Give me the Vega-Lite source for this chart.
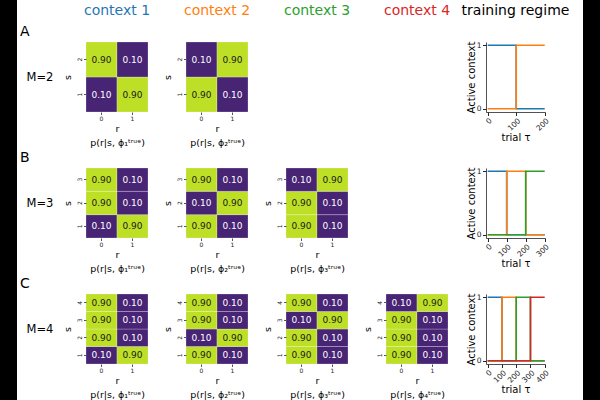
{
  "$schema": "https://vega.github.io/schema/vega-lite/v6.json",
  "padding": 0,
  "background": "white",
  "columns": 7,
  "spacing": {"row": 0, "column": 38},
  "bounds": "flush",
  "align": "each",
  "config": {
    "font": "DejaVu Sans",
    "view": {"stroke": null},
    "title": {"font": "DejaVu Sans", "fontSize": 14, "fontWeight": "normal", "frame": "group", "anchor": "start", "baseline": "alphabetic", "offset": 3, "dx": 20, "color": "black"},
    "axis": {"labelFont": "DejaVu Sans", "titleFont": "DejaVu Sans", "titleFontWeight": "normal", "grid": false, "domainColor": "#262626", "tickColor": "#262626", "labelColor": "#1a1a1a", "titleColor": "#000000", "labelOverlap": false, "labelFlush": false},
    "axisBand": {"domain": false, "labelFontSize": 6, "tickSize": 2.5, "labelPadding": 1, "titleFontSize": 9.5, "titlePadding": 2, "titleLineHeight": 14, "tickColor": "#555555", "titleColor": "#000000"},
    "axisQuantitative": {"domain": true, "domainWidth": 0.8, "labelFontSize": 7.5, "tickSize": 3.5, "labelPadding": 1.5, "titleFontSize": 10, "titlePadding": 1, "titleColor": "#000000"}
  },
  "datasets": {
    "hm": [
      {"M":2,"c":1,"s":1,"r":0,"p":0.1},{"M":2,"c":1,"s":1,"r":1,"p":0.9},{"M":2,"c":1,"s":2,"r":0,"p":0.9},{"M":2,"c":1,"s":2,"r":1,"p":0.1},
      {"M":2,"c":2,"s":1,"r":0,"p":0.9},{"M":2,"c":2,"s":1,"r":1,"p":0.1},{"M":2,"c":2,"s":2,"r":0,"p":0.1},{"M":2,"c":2,"s":2,"r":1,"p":0.9},
      {"M":3,"c":1,"s":1,"r":0,"p":0.1},{"M":3,"c":1,"s":1,"r":1,"p":0.9},{"M":3,"c":1,"s":2,"r":0,"p":0.9},{"M":3,"c":1,"s":2,"r":1,"p":0.1},{"M":3,"c":1,"s":3,"r":0,"p":0.9},{"M":3,"c":1,"s":3,"r":1,"p":0.1},
      {"M":3,"c":2,"s":1,"r":0,"p":0.9},{"M":3,"c":2,"s":1,"r":1,"p":0.1},{"M":3,"c":2,"s":2,"r":0,"p":0.1},{"M":3,"c":2,"s":2,"r":1,"p":0.9},{"M":3,"c":2,"s":3,"r":0,"p":0.9},{"M":3,"c":2,"s":3,"r":1,"p":0.1},
      {"M":3,"c":3,"s":1,"r":0,"p":0.9},{"M":3,"c":3,"s":1,"r":1,"p":0.1},{"M":3,"c":3,"s":2,"r":0,"p":0.9},{"M":3,"c":3,"s":2,"r":1,"p":0.1},{"M":3,"c":3,"s":3,"r":0,"p":0.1},{"M":3,"c":3,"s":3,"r":1,"p":0.9},
      {"M":4,"c":1,"s":1,"r":0,"p":0.1},{"M":4,"c":1,"s":1,"r":1,"p":0.9},{"M":4,"c":1,"s":2,"r":0,"p":0.9},{"M":4,"c":1,"s":2,"r":1,"p":0.1},{"M":4,"c":1,"s":3,"r":0,"p":0.9},{"M":4,"c":1,"s":3,"r":1,"p":0.1},{"M":4,"c":1,"s":4,"r":0,"p":0.9},{"M":4,"c":1,"s":4,"r":1,"p":0.1},
      {"M":4,"c":2,"s":1,"r":0,"p":0.9},{"M":4,"c":2,"s":1,"r":1,"p":0.1},{"M":4,"c":2,"s":2,"r":0,"p":0.1},{"M":4,"c":2,"s":2,"r":1,"p":0.9},{"M":4,"c":2,"s":3,"r":0,"p":0.9},{"M":4,"c":2,"s":3,"r":1,"p":0.1},{"M":4,"c":2,"s":4,"r":0,"p":0.9},{"M":4,"c":2,"s":4,"r":1,"p":0.1},
      {"M":4,"c":3,"s":1,"r":0,"p":0.9},{"M":4,"c":3,"s":1,"r":1,"p":0.1},{"M":4,"c":3,"s":2,"r":0,"p":0.9},{"M":4,"c":3,"s":2,"r":1,"p":0.1},{"M":4,"c":3,"s":3,"r":0,"p":0.1},{"M":4,"c":3,"s":3,"r":1,"p":0.9},{"M":4,"c":3,"s":4,"r":0,"p":0.9},{"M":4,"c":3,"s":4,"r":1,"p":0.1},
      {"M":4,"c":4,"s":1,"r":0,"p":0.9},{"M":4,"c":4,"s":1,"r":1,"p":0.1},{"M":4,"c":4,"s":2,"r":0,"p":0.9},{"M":4,"c":4,"s":2,"r":1,"p":0.1},{"M":4,"c":4,"s":3,"r":0,"p":0.9},{"M":4,"c":4,"s":3,"r":1,"p":0.1},{"M":4,"c":4,"s":4,"r":0,"p":0.1},{"M":4,"c":4,"s":4,"r":1,"p":0.9}
    ],
    "ln": [
      {"M":2,"c":1,"t":0,"a":1},{"M":2,"c":1,"t":100,"a":0},{"M":2,"c":1,"t":200,"a":0},
      {"M":2,"c":2,"t":0,"a":0},{"M":2,"c":2,"t":100,"a":1},{"M":2,"c":2,"t":200,"a":1},
      {"M":3,"c":1,"t":0,"a":1},{"M":3,"c":1,"t":100,"a":0},{"M":3,"c":1,"t":300,"a":0},
      {"M":3,"c":2,"t":0,"a":0},{"M":3,"c":2,"t":100,"a":1},{"M":3,"c":2,"t":200,"a":0},{"M":3,"c":2,"t":300,"a":0},
      {"M":3,"c":3,"t":0,"a":0},{"M":3,"c":3,"t":200,"a":1},{"M":3,"c":3,"t":300,"a":1},
      {"M":4,"c":1,"t":0,"a":1},{"M":4,"c":1,"t":100,"a":0},{"M":4,"c":1,"t":400,"a":0},
      {"M":4,"c":2,"t":0,"a":0},{"M":4,"c":2,"t":100,"a":1},{"M":4,"c":2,"t":200,"a":0},{"M":4,"c":2,"t":400,"a":0},
      {"M":4,"c":3,"t":0,"a":0},{"M":4,"c":3,"t":200,"a":1},{"M":4,"c":3,"t":300,"a":0},{"M":4,"c":3,"t":400,"a":0},
      {"M":4,"c":4,"t":0,"a":0},{"M":4,"c":4,"t":300,"a":1},{"M":4,"c":4,"t":400,"a":1}
    ]
  },
  "concat": [
    {"width": 48, "height": 42, "view": {"stroke": null, "fill": {"gradient": "linear", "x1": 0, "y1": 0, "x2": 1, "y2": 0, "stops": [{"offset": 0, "color": "black"}, {"offset": 0.354, "color": "black"}, {"offset": 0.354, "color": "white"}, {"offset": 1, "color": "white"}]}}, "data": {"values": [{}]}, "mark": {"type": "text", "text": ""}},
    {"width": 62, "height": 21, "data": {"values": [{"label": "context 1"}]}, "mark": {"type": "text", "fontSize": 14, "color": "#1f77b4"}, "encoding": {"text": {"field": "label"}}},
    {"width": 62, "height": 21, "data": {"values": [{"label": "context 2"}]}, "mark": {"type": "text", "fontSize": 14, "color": "#ff7f0e"}, "encoding": {"text": {"field": "label"}}},
    {"width": 62, "height": 21, "data": {"values": [{"label": "context 3"}]}, "mark": {"type": "text", "fontSize": 14, "color": "#2ca02c"}, "encoding": {"text": {"field": "label"}}},
    {"width": 62, "height": 21, "data": {"values": [{"label": "context 4"}]}, "mark": {"type": "text", "fontSize": 14, "color": "#d62728"}, "encoding": {"text": {"field": "label"}}},
    {"width": 59, "height": 21, "data": {"values": [{"label": "training regime"}]}, "mark": {"type": "text", "fontSize": 14, "color": "black"}, "encoding": {"text": {"field": "label"}}},
    {"width": 17, "height": 42, "view": {"fill": "black", "stroke": null}, "data": {"values": [{}]}, "mark": {"type": "text", "text": ""}},

    {"width": 48, "height": 126, "view": {"stroke": null, "fill": {"gradient": "linear", "x1": 0, "y1": 0, "x2": 1, "y2": 0, "stops": [{"offset": 0, "color": "black"}, {"offset": 0.354, "color": "black"}, {"offset": 0.354, "color": "white"}, {"offset": 1, "color": "white"}]}}, "title": {"text": "A"}, "data": {"values": [{"label": "M=2"}]}, "mark": {"type": "text", "fontSize": 11.5, "dx": 16, "dy": -27, "color": "black"}, "encoding": {"text": {"field": "label"}}},
    {"width": 62, "height": 70, "data": {"name": "hm"}, "transform": [{"filter": "datum.M == 2 && datum.c == 1"}],
      "encoding": {"x": {"field": "r", "type": "ordinal", "axis": {"labelAngle": 0, "title": ["r", "p(r|s, ϕ₁ᵗʳᵘᵉ)"]}}, "y": {"field": "s", "type": "ordinal", "sort": "descending", "axis": {"labelAngle": -90, "title": "s", "titlePadding": 4}}},
      "layer": [
        {"mark": {"type": "rect", "stroke": "white", "strokeWidth": 0.6, "strokeOpacity": 0.4}, "encoding": {"color": {"field": "p", "type": "quantitative", "scale": {"domain": [0.1, 0.9], "range": ["#482475", "#bddf26"]}, "legend": null}}},
        {"mark": {"type": "text", "fontSize": 9}, "encoding": {"text": {"field": "p", "type": "quantitative", "format": ".2f"}, "color": {"condition": {"test": "datum.p > 0.5", "value": "#1a1a1a"}, "value": "white"}}}
      ]},
    {"width": 62, "height": 70, "data": {"name": "hm"}, "transform": [{"filter": "datum.M == 2 && datum.c == 2"}],
      "encoding": {"x": {"field": "r", "type": "ordinal", "axis": {"labelAngle": 0, "title": ["r", "p(r|s, ϕ₂ᵗʳᵘᵉ)"]}}, "y": {"field": "s", "type": "ordinal", "sort": "descending", "axis": {"labelAngle": -90, "title": "s", "titlePadding": 4}}},
      "layer": [
        {"mark": {"type": "rect", "stroke": "white", "strokeWidth": 0.6, "strokeOpacity": 0.4}, "encoding": {"color": {"field": "p", "type": "quantitative", "scale": {"domain": [0.1, 0.9], "range": ["#482475", "#bddf26"]}, "legend": null}}},
        {"mark": {"type": "text", "fontSize": 9}, "encoding": {"text": {"field": "p", "type": "quantitative", "format": ".2f"}, "color": {"condition": {"test": "datum.p > 0.5", "value": "#1a1a1a"}, "value": "white"}}}
      ]},
    {"width": 62, "height": 70, "data": {"values": [{}]}, "mark": {"type": "text", "text": ""}},
    {"width": 62, "height": 70, "data": {"values": [{}]}, "mark": {"type": "text", "text": ""}},
    {"width": 59, "height": 70, "data": {"name": "ln"}, "transform": [{"filter": "datum.M == 2"}],
      "mark": {"type": "line", "interpolate": "step-after", "strokeWidth": 1.6},
      "encoding": {
        "x": {"field": "t", "type": "quantitative", "scale": {"domain": [-6, 201], "nice": false, "zero": false}, "axis": {"values": [0, 100, 200], "labelAngle": -45, "labelPadding": 1, "titlePadding": 1, "title": "trial τ"}},
        "y": {"field": "a", "type": "quantitative", "scale": {"domain": [-0.05, 1.05], "nice": false, "zero": false}, "axis": {"values": [0, 1], "format": "d", "titlePadding": 0, "title": "Active context"}},
        "color": {"field": "c", "type": "nominal", "scale": {"domain": [1, 2, 3, 4], "range": ["#1f77b4", "#ff7f0e", "#2ca02c", "#d62728"]}, "legend": null}
      }},
    {"width": 17, "height": 126, "view": {"fill": "black", "stroke": null}, "data": {"values": [{}]}, "mark": {"type": "text", "text": ""}},

    {"width": 48, "height": 126, "view": {"stroke": null, "fill": {"gradient": "linear", "x1": 0, "y1": 0, "x2": 1, "y2": 0, "stops": [{"offset": 0, "color": "black"}, {"offset": 0.354, "color": "black"}, {"offset": 0.354, "color": "white"}, {"offset": 1, "color": "white"}]}}, "title": {"text": "B"}, "data": {"values": [{"label": "M=3"}]}, "mark": {"type": "text", "fontSize": 11.5, "dx": 16, "dy": -27, "color": "black"}, "encoding": {"text": {"field": "label"}}},
    {"width": 62, "height": 70, "data": {"name": "hm"}, "transform": [{"filter": "datum.M == 3 && datum.c == 1"}],
      "encoding": {"x": {"field": "r", "type": "ordinal", "axis": {"labelAngle": 0, "title": ["r", "p(r|s, ϕ₁ᵗʳᵘᵉ)"]}}, "y": {"field": "s", "type": "ordinal", "sort": "descending", "axis": {"labelAngle": -90, "title": "s", "titlePadding": 4}}},
      "layer": [
        {"mark": {"type": "rect", "stroke": "white", "strokeWidth": 0.6, "strokeOpacity": 0.4}, "encoding": {"color": {"field": "p", "type": "quantitative", "scale": {"domain": [0.1, 0.9], "range": ["#482475", "#bddf26"]}, "legend": null}}},
        {"mark": {"type": "text", "fontSize": 9}, "encoding": {"text": {"field": "p", "type": "quantitative", "format": ".2f"}, "color": {"condition": {"test": "datum.p > 0.5", "value": "#1a1a1a"}, "value": "white"}}}
      ]},
    {"width": 62, "height": 70, "data": {"name": "hm"}, "transform": [{"filter": "datum.M == 3 && datum.c == 2"}],
      "encoding": {"x": {"field": "r", "type": "ordinal", "axis": {"labelAngle": 0, "title": ["r", "p(r|s, ϕ₂ᵗʳᵘᵉ)"]}}, "y": {"field": "s", "type": "ordinal", "sort": "descending", "axis": {"labelAngle": -90, "title": "s", "titlePadding": 4}}},
      "layer": [
        {"mark": {"type": "rect", "stroke": "white", "strokeWidth": 0.6, "strokeOpacity": 0.4}, "encoding": {"color": {"field": "p", "type": "quantitative", "scale": {"domain": [0.1, 0.9], "range": ["#482475", "#bddf26"]}, "legend": null}}},
        {"mark": {"type": "text", "fontSize": 9}, "encoding": {"text": {"field": "p", "type": "quantitative", "format": ".2f"}, "color": {"condition": {"test": "datum.p > 0.5", "value": "#1a1a1a"}, "value": "white"}}}
      ]},
    {"width": 62, "height": 70, "data": {"name": "hm"}, "transform": [{"filter": "datum.M == 3 && datum.c == 3"}],
      "encoding": {"x": {"field": "r", "type": "ordinal", "axis": {"labelAngle": 0, "title": ["r", "p(r|s, ϕ₃ᵗʳᵘᵉ)"]}}, "y": {"field": "s", "type": "ordinal", "sort": "descending", "axis": {"labelAngle": -90, "title": "s", "titlePadding": 4}}},
      "layer": [
        {"mark": {"type": "rect", "stroke": "white", "strokeWidth": 0.6, "strokeOpacity": 0.4}, "encoding": {"color": {"field": "p", "type": "quantitative", "scale": {"domain": [0.1, 0.9], "range": ["#482475", "#bddf26"]}, "legend": null}}},
        {"mark": {"type": "text", "fontSize": 9}, "encoding": {"text": {"field": "p", "type": "quantitative", "format": ".2f"}, "color": {"condition": {"test": "datum.p > 0.5", "value": "#1a1a1a"}, "value": "white"}}}
      ]},
    {"width": 62, "height": 70, "data": {"values": [{}]}, "mark": {"type": "text", "text": ""}},
    {"width": 59, "height": 70, "data": {"name": "ln"}, "transform": [{"filter": "datum.M == 3"}],
      "mark": {"type": "line", "interpolate": "step-after", "strokeWidth": 1.6},
      "encoding": {
        "x": {"field": "t", "type": "quantitative", "scale": {"domain": [-9, 301.5], "nice": false, "zero": false}, "axis": {"values": [0, 100, 200, 300], "labelAngle": -45, "labelPadding": 1, "titlePadding": 1, "title": "trial τ"}},
        "y": {"field": "a", "type": "quantitative", "scale": {"domain": [-0.05, 1.05], "nice": false, "zero": false}, "axis": {"values": [0, 1], "format": "d", "titlePadding": 0, "title": "Active context"}},
        "color": {"field": "c", "type": "nominal", "scale": {"domain": [1, 2, 3, 4], "range": ["#1f77b4", "#ff7f0e", "#2ca02c", "#d62728"]}, "legend": null}
      }},
    {"width": 17, "height": 126, "view": {"fill": "black", "stroke": null}, "data": {"values": [{}]}, "mark": {"type": "text", "text": ""}},

    {"width": 48, "height": 106, "view": {"stroke": null, "fill": {"gradient": "linear", "x1": 0, "y1": 0, "x2": 1, "y2": 0, "stops": [{"offset": 0, "color": "black"}, {"offset": 0.354, "color": "black"}, {"offset": 0.354, "color": "white"}, {"offset": 1, "color": "white"}]}}, "title": {"text": "C"}, "data": {"values": [{"label": "M=4"}]}, "mark": {"type": "text", "fontSize": 11.5, "dx": 16, "dy": -17, "color": "black"}, "encoding": {"text": {"field": "label"}}},
    {"width": 62, "height": 70, "data": {"name": "hm"}, "transform": [{"filter": "datum.M == 4 && datum.c == 1"}],
      "encoding": {"x": {"field": "r", "type": "ordinal", "axis": {"labelAngle": 0, "title": ["r", "p(r|s, ϕ₁ᵗʳᵘᵉ)"]}}, "y": {"field": "s", "type": "ordinal", "sort": "descending", "axis": {"labelAngle": -90, "title": "s", "titlePadding": 4}}},
      "layer": [
        {"mark": {"type": "rect", "stroke": "white", "strokeWidth": 0.6, "strokeOpacity": 0.4}, "encoding": {"color": {"field": "p", "type": "quantitative", "scale": {"domain": [0.1, 0.9], "range": ["#482475", "#bddf26"]}, "legend": null}}},
        {"mark": {"type": "text", "fontSize": 9}, "encoding": {"text": {"field": "p", "type": "quantitative", "format": ".2f"}, "color": {"condition": {"test": "datum.p > 0.5", "value": "#1a1a1a"}, "value": "white"}}}
      ]},
    {"width": 62, "height": 70, "data": {"name": "hm"}, "transform": [{"filter": "datum.M == 4 && datum.c == 2"}],
      "encoding": {"x": {"field": "r", "type": "ordinal", "axis": {"labelAngle": 0, "title": ["r", "p(r|s, ϕ₂ᵗʳᵘᵉ)"]}}, "y": {"field": "s", "type": "ordinal", "sort": "descending", "axis": {"labelAngle": -90, "title": "s", "titlePadding": 4}}},
      "layer": [
        {"mark": {"type": "rect", "stroke": "white", "strokeWidth": 0.6, "strokeOpacity": 0.4}, "encoding": {"color": {"field": "p", "type": "quantitative", "scale": {"domain": [0.1, 0.9], "range": ["#482475", "#bddf26"]}, "legend": null}}},
        {"mark": {"type": "text", "fontSize": 9}, "encoding": {"text": {"field": "p", "type": "quantitative", "format": ".2f"}, "color": {"condition": {"test": "datum.p > 0.5", "value": "#1a1a1a"}, "value": "white"}}}
      ]},
    {"width": 62, "height": 70, "data": {"name": "hm"}, "transform": [{"filter": "datum.M == 4 && datum.c == 3"}],
      "encoding": {"x": {"field": "r", "type": "ordinal", "axis": {"labelAngle": 0, "title": ["r", "p(r|s, ϕ₃ᵗʳᵘᵉ)"]}}, "y": {"field": "s", "type": "ordinal", "sort": "descending", "axis": {"labelAngle": -90, "title": "s", "titlePadding": 4}}},
      "layer": [
        {"mark": {"type": "rect", "stroke": "white", "strokeWidth": 0.6, "strokeOpacity": 0.4}, "encoding": {"color": {"field": "p", "type": "quantitative", "scale": {"domain": [0.1, 0.9], "range": ["#482475", "#bddf26"]}, "legend": null}}},
        {"mark": {"type": "text", "fontSize": 9}, "encoding": {"text": {"field": "p", "type": "quantitative", "format": ".2f"}, "color": {"condition": {"test": "datum.p > 0.5", "value": "#1a1a1a"}, "value": "white"}}}
      ]},
    {"width": 62, "height": 70, "data": {"name": "hm"}, "transform": [{"filter": "datum.M == 4 && datum.c == 4"}],
      "encoding": {"x": {"field": "r", "type": "ordinal", "axis": {"labelAngle": 0, "title": ["r", "p(r|s, ϕ₄ᵗʳᵘᵉ)"]}}, "y": {"field": "s", "type": "ordinal", "sort": "descending", "axis": {"labelAngle": -90, "title": "s", "titlePadding": 4}}},
      "layer": [
        {"mark": {"type": "rect", "stroke": "white", "strokeWidth": 0.6, "strokeOpacity": 0.4}, "encoding": {"color": {"field": "p", "type": "quantitative", "scale": {"domain": [0.1, 0.9], "range": ["#482475", "#bddf26"]}, "legend": null}}},
        {"mark": {"type": "text", "fontSize": 9}, "encoding": {"text": {"field": "p", "type": "quantitative", "format": ".2f"}, "color": {"condition": {"test": "datum.p > 0.5", "value": "#1a1a1a"}, "value": "white"}}}
      ]},
    {"width": 59, "height": 70, "data": {"name": "ln"}, "transform": [{"filter": "datum.M == 4"}],
      "mark": {"type": "line", "interpolate": "step-after", "strokeWidth": 1.6},
      "encoding": {
        "x": {"field": "t", "type": "quantitative", "scale": {"domain": [-12, 402], "nice": false, "zero": false}, "axis": {"values": [0, 100, 200, 300, 400], "labelAngle": -45, "labelPadding": 1, "titlePadding": 1, "title": "trial τ"}},
        "y": {"field": "a", "type": "quantitative", "scale": {"domain": [-0.05, 1.05], "nice": false, "zero": false}, "axis": {"values": [0, 1], "format": "d", "titlePadding": 0, "title": "Active context"}},
        "color": {"field": "c", "type": "nominal", "scale": {"domain": [1, 2, 3, 4], "range": ["#1f77b4", "#ff7f0e", "#2ca02c", "#d62728"]}, "legend": null}
      }},
    {"width": 17, "height": 106, "view": {"fill": "black", "stroke": null}, "data": {"values": [{}]}, "mark": {"type": "text", "text": ""}}
  ]
}
